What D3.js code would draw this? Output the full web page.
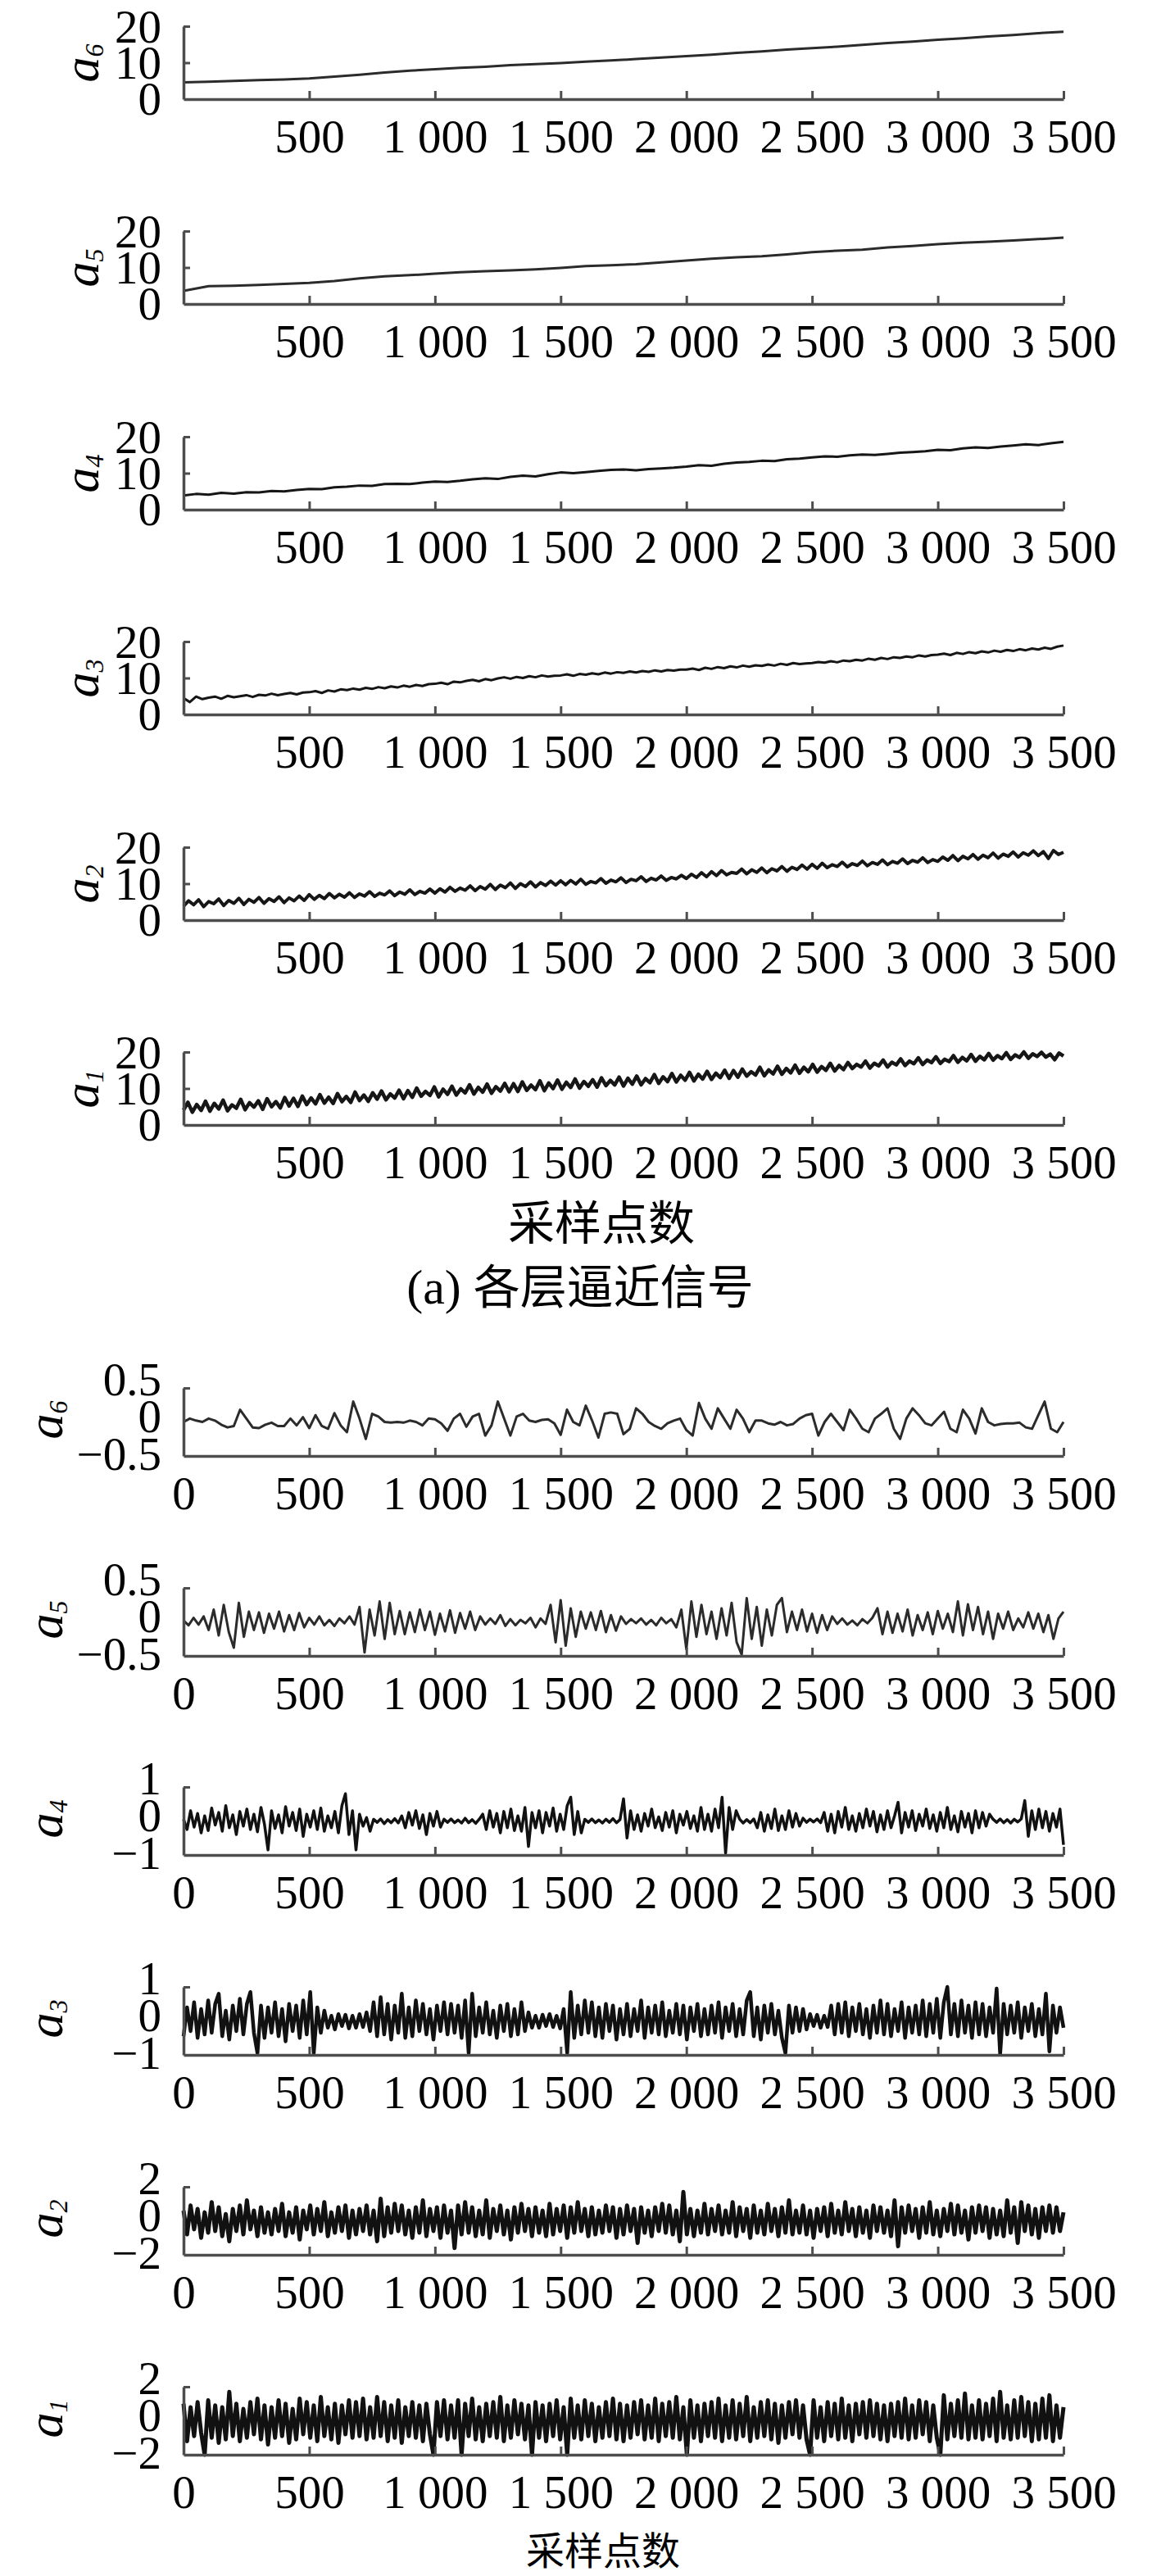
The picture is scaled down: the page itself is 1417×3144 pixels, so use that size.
<!DOCTYPE html>
<html>
<head>
<meta charset="utf-8">
<title>各层逼近信号</title>
<script src="https://cdn.jsdelivr.net/npm/d3@7"></script>
<style>
  body { margin: 0; background: #fff; }
  svg { display: block; }
</style>
</head>
<body>
<svg id="chart"></svg>
<script>
// x axis: sample index
const sampleMax = 3500;
const xTicksTop = [500, 1000, 1500, 2000, 2500, 3000, 3500];
const xTicksBottom = [0, 500, 1000, 1500, 2000, 2500, 3000, 3500];
const xLabel = "采样点数";
const titleA = ["(a) ", "各层逼近信号"];

// (a) approximation signals (evenly spaced over 0..3500)
const topA6 = [4.6, 4.8, 5.0, 5.2, 5.4, 5.7, 6.2, 6.7, 7.3, 7.8, 8.2, 8.6, 8.9, 9.3, 9.6, 9.9, 10.3, 10.6,
  11.0, 11.4, 11.8, 12.2, 12.7, 13.1, 13.6, 14.0, 14.4, 14.9, 15.4, 15.8, 16.3, 16.7, 17.2, 17.6, 18.1, 18.5];
const topA5 = [3.6, 4.9, 5.0, 5.2, 5.5, 5.8, 6.3, 7.0, 7.6, 7.9, 8.3, 8.7, 9.0, 9.2, 9.5, 9.9, 10.4, 10.6,
  10.9, 11.4, 11.9, 12.4, 12.8, 13.1, 13.6, 14.2, 14.6, 14.9, 15.5, 15.9, 16.4, 16.8, 17.1, 17.4, 17.8, 18.2];
const topA4 = [3.9, 4.3, 4.1, 4.6, 4.4, 4.8, 4.7, 5.1, 5.0, 5.4,
  5.7, 5.6, 6.1, 6.3, 6.6, 6.5, 7.0, 7.1, 7.0, 7.4,
  7.7, 7.6, 7.9, 8.3, 8.6, 8.4, 9.0, 9.3, 9.1, 9.7,
  10.2, 10.0, 10.3, 10.6, 10.9, 11.0, 10.8, 11.1, 11.3, 11.5,
  11.8, 12.2, 12.0, 12.6, 12.9, 13.1, 13.4, 13.3, 13.8, 14.0,
  14.3, 14.6, 14.5, 14.9, 15.1, 15.0, 15.3, 15.6, 15.8, 16.0,
  16.4, 16.3, 16.8, 17.1, 16.9, 17.3, 17.6, 17.9, 17.7, 18.2,
  18.6];
const topA3 = [4.5, 3.4, 4.9, 4.2, 4.6, 4.9, 4.3, 5.1, 4.7, 5.0, 5.3, 4.8, 5.4, 5.2, 5.7, 5.3, 5.6, 5.9, 5.5, 6.0,
  6.1, 6.4, 5.9, 6.6, 6.3, 6.9, 6.7, 7.1, 6.8, 7.3, 7.0, 7.5, 7.2, 7.7, 7.4, 7.9, 7.6, 8.1, 7.8, 8.3,
  8.4, 8.7, 8.3, 9.0, 8.8, 9.2, 9.5, 9.1, 9.7, 9.4, 9.9, 10.2, 9.8, 10.3, 10.0, 10.5, 10.2, 10.7, 10.4, 10.6,
  10.7, 11.0, 10.6, 11.1, 10.9, 11.3, 11.0, 11.5, 11.2, 11.6, 11.4, 11.8, 11.5, 11.9, 11.7, 12.1, 11.8, 12.2, 12.0, 12.3,
  12.3, 12.6, 12.2, 12.8, 12.5, 13.0, 12.7, 13.2, 12.9, 13.4, 13.1, 13.5, 13.3, 13.7, 13.4, 13.9, 13.6, 14.1, 13.8, 14.0,
  14.1, 14.4, 14.2, 14.6, 14.3, 14.8, 14.6, 15.0, 14.8, 15.3, 15.0, 15.5, 15.2, 15.7, 15.5, 15.9, 15.7, 16.2, 15.9, 16.3,
  16.4, 16.7, 16.3, 16.9, 16.6, 17.1, 16.8, 17.3, 17.0, 17.5, 17.2, 17.7, 17.4, 17.9, 17.6, 18.1, 17.8, 18.3, 18.0, 18.6,
  18.9];
const topA2 = [3.8, 5.3, 4.2, 5.6, 3.7, 5.1, 4.5, 5.8, 4.0, 5.4, 4.6, 6.0, 4.3, 5.7, 4.9, 6.2, 4.6, 5.9, 5.1, 6.4, 4.8, 6.1, 5.3, 6.6, 5.4,
  7.0, 5.7, 6.8, 5.9, 7.3, 6.1, 7.1, 6.3, 7.5, 6.2, 7.2, 6.6, 7.8, 6.5, 7.4, 6.9, 8.0, 6.7, 7.7, 7.1, 8.3, 7.0, 7.9, 7.4, 8.5,
  7.4, 8.6, 7.7, 9.0, 7.9, 8.8, 8.2, 9.4, 8.1, 9.2, 8.5, 9.8, 8.4, 9.6, 8.9, 10.2, 8.7, 10.0, 9.2, 10.5, 9.1, 10.3, 9.5, 10.7, 9.6,
  10.8, 9.7, 10.9, 9.9, 11.2, 9.8, 10.6, 10.2, 11.4, 10.1, 11.0, 10.5, 11.6, 10.3, 11.2, 10.8, 11.9, 10.6, 11.5, 11.0, 12.1, 10.9, 11.7, 11.3, 12.3,
  11.4, 12.6, 11.7, 13.0, 11.9, 13.3, 12.2, 13.6, 12.4, 13.1, 12.8, 14.0, 12.7, 13.8, 13.1, 14.3, 13.0, 14.1, 13.5, 14.7, 13.4, 14.5, 13.9, 15.1, 14.0,
  15.3, 14.2, 15.6, 14.4, 15.2, 14.7, 15.9, 14.6, 15.5, 15.0, 16.2, 14.9, 15.8, 15.3, 16.5, 15.2, 16.1, 15.6, 16.8, 15.5, 16.4, 15.9, 17.1, 15.8, 16.6,
  16.1, 17.3, 16.4, 17.7, 16.3, 17.5, 16.8, 18.0, 16.7, 17.8, 17.1, 18.4, 17.0, 18.1, 17.5, 18.7, 17.3, 18.5, 17.8, 19.0, 17.7, 18.8, 16.9, 19.1, 18.0,
  18.6];
const topA1 = [4.1, 6.2, 3.5, 5.6, 4.0, 6.5, 3.8, 5.9, 4.4, 6.8, 3.9, 5.5, 4.6, 7.0, 4.2, 6.1, 4.9, 6.6, 4.3, 7.2, 5.0, 6.4, 4.7, 7.5, 5.2,
  7.3, 5.1, 7.9, 5.6, 7.4, 5.8, 8.3, 6.0, 7.6, 5.9, 8.6, 6.4, 7.8, 6.2, 9.0, 6.7, 8.2, 6.5, 8.8, 7.1, 9.3, 6.9, 8.5, 7.4, 9.5,
  7.2, 9.4, 7.6, 10.1, 7.9, 9.2, 8.1, 10.4, 7.7, 9.8, 8.4, 10.6, 8.2, 9.9, 8.8, 11.0, 8.5, 10.3, 9.0, 11.2, 8.7, 10.5, 9.3, 11.4, 9.1,
  11.3, 9.2, 11.8, 9.5, 10.9, 9.7, 12.1, 9.4, 11.5, 10.0, 12.3, 9.8, 11.7, 10.3, 12.6, 10.1, 11.9, 10.6, 12.4, 10.4, 12.9, 10.8, 12.2, 11.0, 13.1,
  10.7, 12.8, 11.2, 13.4, 11.0, 12.7, 11.6, 13.8, 11.4, 13.2, 11.9, 14.1, 11.8, 13.6, 12.3, 14.4, 12.1, 13.9, 12.6, 14.7, 12.5, 14.2, 13.0, 15.0, 12.8,
  14.9, 13.1, 15.3, 13.4, 14.6, 13.7, 15.8, 13.5, 15.1, 14.0, 16.1, 13.9, 15.5, 14.3, 16.4, 14.2, 15.8, 14.6, 16.6, 14.5, 16.0, 15.0, 16.9, 14.8, 16.3,
  15.2, 17.1, 15.5, 16.6, 15.9, 17.5, 15.6, 16.9, 16.2, 17.8, 15.9, 17.2, 16.5, 18.1, 16.3, 17.5, 16.8, 18.4, 16.6, 17.8, 17.1, 18.7, 16.9, 18.0, 17.4,
  19.0, 17.2, 18.5, 17.6, 19.3, 17.5, 18.8, 17.9, 19.6, 17.8, 19.0, 18.2, 19.8, 18.0, 19.2, 18.5, 20.0, 18.3, 19.5, 18.8, 19.9, 18.6, 19.4, 17.9, 19.7,
  18.9];

// (b) lower group (evenly spaced over 0..3500)
const lowA6 = [0.00, 0.05, 0.02, 0.00, 0.05, 0.02, -0.04, -0.08, -0.06, 0.18,
  0.05, -0.08, -0.09, -0.04, -0.01, -0.06, -0.06, 0.05, -0.05, 0.07,
  -0.09, 0.10, -0.06, -0.10, 0.13, -0.05, -0.15, 0.30, 0.05, -0.25,
  0.12, 0.08, 0.00, -0.01, 0.00, -0.01, 0.02, 0.00, -0.05, 0.05,
  0.04, -0.02, -0.13, 0.05, 0.12, -0.07, 0.08, 0.12, -0.20, -0.05,
  0.30, 0.05, -0.20, 0.08, 0.12, 0.02, 0.00, 0.03, 0.04, -0.02,
  -0.19, 0.18, 0.00, -0.05, 0.24, 0.02, -0.23, 0.12, 0.14, 0.12,
  -0.18, -0.10, 0.20, 0.12, 0.00, -0.06, -0.10, -0.02, 0.02, 0.05,
  -0.12, -0.20, 0.28, 0.05, -0.10, 0.20, 0.05, -0.10, 0.18, 0.05,
  -0.15, 0.02, 0.02, -0.02, -0.04, 0.00, -0.05, -0.03, 0.05, 0.10,
  0.12, -0.20, 0.00, 0.12, 0.00, -0.12, 0.18, 0.05, -0.10, -0.15,
  0.05, 0.12, 0.20, -0.10, -0.25, 0.05, 0.20, 0.10, -0.02, -0.05,
  0.05, 0.15, -0.10, -0.15, 0.18, 0.05, -0.17, 0.20, 0.00, -0.05,
  -0.03, -0.02, -0.02, -0.01, -0.08, -0.10, 0.10, 0.30, -0.10, -0.15,
  0.00];
const lowA5 = [0.02, -0.05, 0.06, -0.04, 0.08,
  -0.12, 0.18, -0.20, 0.25, -0.15, -0.38, 0.28, -0.22,
  0.15, -0.12, 0.14, -0.16, 0.12, -0.10, 0.15, -0.14, 0.10, -0.12, 0.13, -0.08,
  0.06, -0.04, 0.08, -0.05, 0.03, -0.06, 0.05, -0.02, 0.08, -0.04,
  0.22, -0.45, 0.18, -0.20, 0.30, -0.25, 0.28, -0.18,
  0.16, -0.18, 0.14, -0.15, 0.18, -0.12, 0.15, -0.19, 0.12, -0.14, 0.17, -0.16, 0.13, -0.10, 0.15, -0.12, 0.08,
  -0.04, 0.05, -0.03, 0.10, -0.06, 0.04, -0.05, 0.03, -0.02, 0.06, -0.08, 0.05, -0.03,
  0.25, -0.30, 0.32, -0.35, 0.20, -0.22, 0.15, -0.10,
  0.14, -0.12, 0.16, -0.15, 0.10, -0.13, 0.08,
  -0.03, 0.04, -0.02, 0.05, -0.04, 0.03, -0.05, 0.06, -0.02, 0.04,
  -0.08, 0.18, -0.40, 0.30, -0.22, 0.25, -0.18, 0.15, -0.25, 0.20,
  -0.20, 0.28, -0.30, -0.48, 0.35, -0.25, 0.22, -0.35, 0.18, -0.20, 0.25, 0.35,
  -0.15, 0.15, -0.12, 0.18, -0.14, 0.12, -0.16, 0.10, -0.12, 0.08,
  -0.03, 0.05, -0.04, 0.02, -0.05, 0.04, -0.02, 0.06,
  0.20, -0.18, 0.15, -0.16, 0.12, -0.14, 0.18, -0.20, 0.10, -0.12, 0.14, -0.18, 0.16, -0.10, 0.12,
  -0.15, 0.30, -0.20, 0.26, -0.12, 0.22, -0.18, 0.15, -0.25, 0.12,
  -0.10, 0.15, -0.12, 0.05, -0.08, 0.14, -0.10, 0.12, -0.15, 0.10, -0.25, 0.05, 0.15];
const lowA4 = [0.05, -0.25, 0.30, -0.18, 0.22, -0.35, 0.15, -0.28, 0.38, -0.12, 0.25, -0.30, 0.45, -0.20, 0.18, -0.40, 0.28, -0.15, 0.35, -0.25, 0.20, -0.32, 0.40, -0.10, -0.85,
  0.30, -0.22, 0.18, -0.35, 0.42, -0.15, 0.25, -0.28, 0.35, -0.45, 0.20, -0.18, 0.30, -0.25, 0.38, -0.30, 0.15, -0.20, 0.28, -0.35, 0.45, 0.80, -0.40, 0.30, -0.85,
  0.20, -0.15, 0.10, -0.30, 0.05, -0.04, 0.06, -0.08, 0.04, -0.05, 0.07, -0.06, 0.15, -0.20, 0.25, -0.12, 0.30, -0.22, 0.18, -0.40, 0.22, -0.15, 0.28, -0.18, 0.05,
  -0.04, 0.06, -0.05, 0.03, -0.06, 0.08, -0.05, 0.04, -0.07, 0.05, 0.20, -0.25, 0.30, -0.18, 0.22, -0.35, 0.28, -0.20, 0.35, -0.28, 0.15, -0.30, 0.40, -0.75, 0.25,
  -0.20, 0.30, -0.35, 0.25, -0.15, 0.38, -0.30, 0.20, -0.25, 0.45, 0.70, -0.40, 0.28, -0.35, 0.05, -0.04, 0.06, -0.05, 0.03, -0.06, 0.05, -0.04, 0.07, -0.05, 0.04,
  0.65, -0.50, 0.30, -0.25, 0.18, -0.30, 0.22, -0.15, 0.35, -0.20, 0.12, -0.28, 0.25, -0.18, 0.30, -0.35, 0.20, -0.12, 0.28, -0.22, 0.15, -0.30, 0.40, -0.25, 0.20,
  -0.30, 0.35, -0.20, 0.70, -0.95, 0.40, -0.25, 0.30, 0.05, -0.06, 0.04, -0.05, 0.06, -0.20, 0.25, -0.30, 0.18, -0.22, 0.35, -0.28, 0.15, -0.25, 0.30, -0.18, 0.22,
  -0.15, 0.08, -0.04, 0.05, -0.03, 0.06, -0.05, 0.25, -0.30, 0.20, -0.35, 0.28, -0.18, 0.40, -0.25, 0.15, -0.30, 0.22, -0.20, 0.35, -0.15, 0.28, -0.32, 0.18, -0.25,
  0.30, -0.20, 0.15, 0.55, -0.35, 0.25, -0.18, 0.30, -0.28, 0.20, -0.15, 0.35, -0.22, 0.18, -0.30, 0.25, -0.20, 0.40, -0.25, 0.15, -0.32, 0.28, -0.18, 0.22, -0.35,
  0.30, -0.20, 0.25, -0.15, 0.20, 0.05, -0.04, 0.06, -0.05, 0.04, -0.06, 0.05, -0.03, 0.06, 0.60, -0.45, 0.30, -0.25, 0.35, -0.20, 0.28, -0.30, 0.22, -0.18, 0.35,
  -0.70];
const lowA3 = [-0.45, 0.40, -0.30, 0.55, -0.50, 0.35, -0.40, 0.60, -0.35, 0.50, 0.80, -0.45, 0.30, -0.55, 0.45, -0.30, 0.65, -0.40, 0.50, 0.85, -0.35, -0.95, 0.45, -0.50, 0.40,
  -0.35, 0.55, -0.45, 0.35, -0.60, 0.50, -0.30, 0.45, -0.50, 0.60, -0.40, 0.85, -0.95, 0.40, -0.35, 0.30, -0.20, 0.15, -0.25, 0.20, -0.15, 0.18, -0.22, 0.15, -0.20,
  0.20, -0.18, 0.25, -0.30, 0.55, -0.45, 0.70, -0.40, 0.50, -0.55, 0.45, -0.35, 0.80, -0.50, 0.40, -0.45, 0.60, -0.30, 0.50, -0.40, 0.35, -0.55, 0.45, -0.30, 0.55,
  -0.40, 0.50, -0.35, 0.45, -0.50, 0.60, -0.95, 0.80, -0.45, 0.40, -0.35, 0.55, -0.40, 0.30, -0.50, 0.45, -0.30, 0.50, -0.45, 0.35, -0.40, 0.55, -0.30, 0.25, -0.20,
  0.15, -0.20, 0.18, -0.15, 0.20, -0.18, 0.15, -0.22, 0.35, -0.95, 0.85, -0.50, 0.45, -0.40, 0.60, -0.35, 0.55, -0.45, 0.40, -0.50, 0.50, -0.30, 0.45, -0.55, 0.35,
  -0.40, 0.50, -0.45, 0.35, -0.30, 0.60, -0.50, 0.40, -0.35, 0.45, -0.40, 0.55, -0.45, 0.30, -0.35, 0.50, -0.40, 0.45, -0.55, 0.40, -0.30, 0.50, -0.45, 0.35, -0.40,
  0.45, -0.35, 0.55, -0.50, 0.40, -0.30, 0.50, -0.45, 0.35, -0.40, 0.60, 0.85, -0.45, 0.40, -0.55, 0.45, -0.35, 0.50, -0.40, 0.30, -0.50, -0.95, 0.45, -0.35, 0.40,
  -0.30, 0.35, -0.25, 0.20, -0.15, 0.18, -0.20, 0.15, -0.18, 0.45, -0.40, 0.50, -0.35, 0.55, -0.45, 0.40, -0.30, 0.50, -0.40, 0.35, -0.50, 0.45, -0.35, 0.60, -0.40,
  0.50, -0.45, 0.35, -0.30, 0.55, -0.50, 0.40, -0.35, 0.45, -0.40, 0.60, -0.45, 0.50, -0.35, 0.65, -0.50, 0.55, 1.00, -0.40, 0.50, -0.45, 0.60, -0.35, 0.45, -0.50,
  0.55, -0.40, 0.50, -0.45, 0.40, -0.35, 0.95, -0.97, 0.50, -0.40, 0.45, -0.35, 0.55, -0.50, 0.40, -0.30, 0.50, -0.45, 0.35, -0.40, 0.80, -0.90, 0.45, -0.35, 0.40,
  -0.20];
const lowA2 = [0.6, -0.8, 0.9, -0.5, 0.7, -1.0, 0.5, -0.7, 1.1, -0.6, 0.8, -0.9, 0.4, -1.2, 0.7, -0.6, 0.9, -0.8, 1.2, -0.5, 0.6, -0.9, 0.8, -0.7, 0.5,
  -0.8, 0.7, -0.6, 1.0, -0.9, 0.5, -0.7, 0.8, -1.1, 0.6, -0.5, 0.9, -0.8, 0.7, -0.6, 1.1, -0.9, 0.5, -0.7, 0.8, -0.6, 0.9, -1.0, 0.6, -0.8,
  0.7, -0.6, 0.9, -0.8, 0.6, -1.2, 1.3, -0.9, 0.8, -0.7, 1.0, -0.6, 0.9, -0.8, 0.6, -1.0, 0.8, -0.7, 1.2, -0.9, 0.7, -0.6, 0.8, -1.0, 0.9,
  -0.7, 0.6, -1.6, 0.9, -0.8, 1.1, -0.7, 0.8, -0.9, 0.6, -0.8, 1.2, -1.0, 0.7, -0.6, 0.9, -0.8, 0.6, -1.1, 0.8, -0.7, 1.0, -0.6, 0.7, -0.9,
  0.8, -0.7, 0.6, -0.9, 1.0, -0.8, 0.7, -0.6, 0.9, -1.0, 0.8, -0.7, 1.1, -0.6, 0.7, -0.9, 0.8, -0.8, 0.6, -0.7, 0.9, -0.6, 0.8, -1.0, 0.7,
  -0.8, 0.9, -0.6, 0.7, -1.3, 0.8, -0.7, 0.6, -0.9, 0.8, -0.6, 1.0, -0.7, 0.9, -0.8, 0.6, -1.2, 1.7, -0.8, 0.7, -0.9, 0.6, -0.7, 1.0, -0.8,
  0.7, -0.6, 0.9, -0.8, 0.6, -0.7, 1.1, -0.9, 0.8, -0.6, 0.7, -1.0, 0.9, -0.7, 0.6, -0.8, 1.0, -0.6, 0.7, -0.9, 0.8, -0.7, 1.2, -0.8, 0.6,
  -0.7, 0.9, -0.8, 0.6, -1.0, 0.7, -0.6, 0.8, -0.9, 1.0, -0.7, 0.6, -0.8, 1.1, -0.6, 0.7, -0.9, 0.8, -0.7, 0.6, -1.0, 0.9, -0.6, 0.8, -0.7,
  0.6, -0.9, 1.2, -1.5, 0.8, -0.7, 0.9, -0.6, 0.7, -1.0, 0.8, -0.7, 1.1, -0.8, 0.6, -0.9, 0.7, -0.6, 1.0, -0.8, 0.9, -0.7, 0.6, -1.1, 0.8,
  -0.7, 0.9, -0.6, 0.8, -1.0, 0.7, -0.8, 0.6, -0.9, 1.2, -0.7, 0.8, -1.3, 1.1, -0.6, 0.9, -0.8, 0.7, -1.0, 0.8, -0.6, 0.9, -0.7, 0.8, -0.6,
  0.5];
const lowA1 = [1.0, -1.2, 0.8, -0.9, 1.1, -0.7, -2.0, 1.2, -1.0, 0.9, -1.3, 0.8, -1.1, 1.7, -0.9, 1.0, -1.2, 0.7, -1.0, 1.1, -0.8, 1.3, -1.1, 0.9, -1.4,
  0.8, -1.0, 1.2, -0.9, 1.0, -1.3, 0.7, -1.1, 1.3, -0.8, 1.1, -1.0, 0.9, -1.2, 1.4, -0.9, 0.8, -1.1, 1.0, -1.3, 0.9, -0.8, 1.2, -1.0, 1.1,
  -0.9, 1.3, -1.1, 0.8, -1.0, 1.4, -0.9, 1.1, -1.2, 0.9, -1.0, 1.2, -1.3, 0.8, -0.9, 1.1, -1.0, 0.9, -1.2, 1.0, -0.8, -2.0, 1.1, -0.9, 1.2,
  -1.1, 0.9, -1.0, 1.2, -2.0, 1.0, -0.9, 1.3, -1.1, 0.8, -1.2, 1.0, -0.9, 1.1, -1.0, 1.4, -1.2, 0.9, -1.0, 1.2, -0.8, 1.0, -1.1, 0.9, -2.0,
  1.1, -1.0, 0.9, -1.2, 1.0, -0.9, 1.2, -1.1, 0.8, -2.0, 1.3, -1.0, 0.9, -1.1, 1.2, -0.9, 1.0, -1.2, 0.8, -1.0, 1.1, -0.9, 1.3, -1.1, 1.0,
  -1.2, 0.9, -1.0, 1.1, -0.8, 1.2, -1.1, 0.9, -1.0, 1.3, -1.2, 1.0, -0.9, 1.1, -1.0, 1.4, -1.1, 0.8, -2.0, 1.2, -1.0, 0.9, -1.2, 1.0, -0.9,
  1.1, -1.0, 1.3, -1.2, 0.9, -1.0, 1.2, -1.1, 1.0, -0.9, 1.4, -1.2, 0.8, -1.0, 1.1, -0.9, 1.2, -1.1, 1.0, -1.3, 0.9, -1.0, 1.1, -0.8, 1.2,
  -1.0, 0.9, -1.1, -2.0, 1.2, -1.0, 0.8, -1.2, 1.1, -0.9, 1.0, -1.1, 1.3, -1.0, 0.9, -1.2, 1.0, -0.8, 1.1, -1.0, 1.2, -0.9, 1.0, -1.1, 0.9,
  -1.2, 1.0, -0.9, 1.1, -1.0, 1.3, -1.1, 0.9, -1.0, 1.2, -0.8, 1.1, -1.2, 0.9, -1.0, -2.0, 1.5, -1.1, 1.0, -0.9, 1.2, -1.0, 1.6, -1.1, 0.9,
  -1.0, 1.2, -1.1, 1.0, -0.9, 1.3, -1.2, 1.7, -1.0, 0.9, -1.1, 1.2, -1.0, 1.4, -0.9, 1.1, -1.2, 1.0, -1.1, 1.3, -1.0, 1.5, -1.2, 0.9, -1.0,
  0.8];

const topNames = ["6", "5", "4", "3", "2", "1"];
const topSeries = [topA6, topA5, topA4, topA3, topA2, topA1];
const topDomain = [0, 20];
const topTickLabels = [0, 10, 20];

const lowNames = ["6", "5", "4", "3", "2", "1"];
const lowSeries = [lowA6, lowA5, lowA4, lowA3, lowA2, lowA1];
const lowLimits = [0.5, 0.5, 1, 1, 2, 2];

// layout
const W = 1417, H = 3144;
const serif = "'Liberation Serif', 'Times New Roman', serif";
const cjk = "'Noto Sans CJK SC', sans-serif";
const topAxisY = [121, 371, 622, 872, 1123, 1373];
const lowAxisY = [1777, 2021, 2264, 2508, 2752, 2996];
const topWidths = [3, 3, 3, 3, 4, 4.5];
const lowWidths = [3, 3, 3.5, 4.5, 5, 5];

const svg = d3.select("#chart").attr("width", W).attr("height", H);
svg.append("rect").attr("width", W).attr("height", H).attr("fill", "#fff");

const x = d3.scaleLinear().domain([0, sampleMax]).range([224, 1298]);
const spaced = d3.formatLocale({ decimal: ".", thousands: " ", grouping: [3], currency: ["", ""] }).format(",");
const plain = d3.format("~g");

function drawPanel(p) {
  const y = d3.scaleLinear().domain(p.domain).range([p.axisY, p.axisY - p.h]);
  const idx = d3.scaleLinear().domain([0, p.values.length - 1]).range([0, sampleMax]);
  const g = svg.append("g");

  g.append("path")
    .datum(p.values)
    .attr("fill", "none")
    .attr("stroke", p.color)
    .attr("stroke-width", p.sw)
    .attr("stroke-linejoin", "round")
    .attr("d", d3.line().x((d, i) => x(idx(i))).y(d => y(d)));

  // x axis, ticks point up into the plot
  g.append("g")
    .attr("transform", `translate(0,${p.axisY})`)
    .call(d3.axisBottom(x).tickValues(p.xTicks).tickFormat(spaced)
      .tickSizeInner(-10).tickSizeOuter(0).tickPadding(25))
    .call(styleAxis);

  // y axis line with small inward ticks
  g.append("g")
    .attr("transform", `translate(${x(0)},0)`)
    .call(d3.axisLeft(y).tickValues(p.yMarks).tickFormat(() => "")
      .tickSizeInner(-8).tickSizeOuter(0))
    .call(styleAxis);

  // y tick labels sit a little apart from the marks in the original
  const yLab = d3.scaleLinear().domain(p.domain).range([p.axisY + p.labLo, p.axisY + p.labHi]);
  g.append("g")
    .attr("transform", `translate(${x(0)},0)`)
    .call(d3.axisLeft(yLab).tickValues(p.yLabels).tickFormat(plain).tickSize(0).tickPadding(27))
    .call(a => a.select(".domain").remove())
    .call(styleAxis);

  // rotated axis name a_n
  const t = g.append("text")
    .attr("transform", `translate(${p.nameX},${p.axisY - 44}) rotate(-90)`)
    .attr("text-anchor", "middle")
    .attr("font-family", serif)
    .attr("font-style", "italic");
  t.append("tspan").attr("font-size", 62).text("a");
  t.append("tspan").attr("font-size", 32).attr("dy", 6).text(p.name);
}

function styleAxis(a) {
  a.attr("font-family", serif).attr("font-size", 57);
  a.select(".domain").attr("stroke", "#4d4d4d").attr("stroke-width", 3.5);
  a.selectAll(".tick line").attr("stroke", "#4d4d4d").attr("stroke-width", 3);
  a.selectAll(".tick text").attr("fill", "#000");
}

// (a) group
topSeries.forEach((values, i) => {
  drawPanel({
    values, name: topNames[i], axisY: topAxisY[i], h: 89,
    domain: topDomain, yMarks: [10, 20], yLabels: topTickLabels,
    labLo: 0, labHi: -88, xTicks: xTicksTop, nameX: 120,
    color: i < 2 ? "#2b2b2b" : "#161616", sw: topWidths[i]
  });
});

// (b) group
lowSeries.forEach((values, i) => {
  const m = lowLimits[i];
  drawPanel({
    values, name: lowNames[i], axisY: lowAxisY[i], h: 83,
    domain: [-m, m], yMarks: [m], yLabels: [-m, 0, m],
    labLo: -2, labHi: -93, xTicks: xTicksBottom, nameX: 76,
    color: i < 2 ? "#2b2b2b" : "#111", sw: lowWidths[i]
  });
});

// axis titles and caption
svg.append("text").attr("x", 734).attr("y", 1513).attr("text-anchor", "middle")
  .attr("font-family", cjk).attr("font-size", 57).text(xLabel);

const cap = svg.append("text").attr("x", 708).attr("y", 1591).attr("text-anchor", "middle");
cap.append("tspan").attr("font-family", serif).attr("font-size", 60).text(titleA[0]);
cap.append("tspan").attr("font-family", cjk).attr("font-size", 57).text(titleA[1]);

// bottom title: the original is clipped by the page edge, kept just inside it here
svg.append("text").attr("x", 736).attr("y", 3130).attr("text-anchor", "middle")
  .attr("font-family", cjk).attr("font-size", 47).text(xLabel);
</script>
</body>
</html>
